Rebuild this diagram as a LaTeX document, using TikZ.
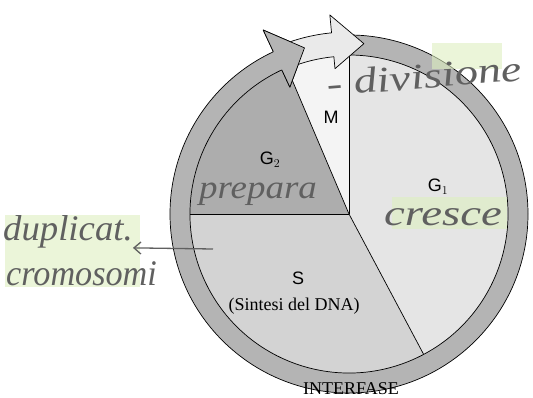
\documentclass[tikz,border=0pt]{standalone}
\usepackage{fontspec}
\setmainfont{Liberation Serif}
\setsansfont{Liberation Sans}
\usetikzlibrary{arrows.meta}

\definecolor{ringgray}{HTML}{B4B4B4}
\definecolor{gtwogray}{HTML}{ADADAD}
\definecolor{sgray}{HTML}{D3D3D3}
\definecolor{gonegray}{HTML}{E5E5E5}
\definecolor{mgray}{HTML}{F4F4F4}
\definecolor{lightarrow}{HTML}{EAEAEA}
\definecolor{pencil}{HTML}{606060}
\definecolor{hilite}{HTML}{DDEFC0}

\begin{document}
\begin{tikzpicture}[x=1pt, y=1pt, line join=round,
  outl/.style={draw=black, line width=0.7pt},
  phase/.style={font=\sffamily\fontsize{18}{18}\selectfont},
  serif/.style={font=\rmfamily\fontsize{18}{18}\selectfont},
  handw/.style={text=pencil, font=\rmfamily\itshape\fontsize{36}{36}\selectfont, inner sep=0pt}]
\useasboundingbox (0,0) rectangle (533,397);
\coordinate (c) at (349,183);
\begin{scope}[shift={(c)}]
% Sectors of the cycle
\fill[gonegray] (0,0) -- (-62:159) arc[start angle=-62, end angle=90, radius=159] -- cycle;
\fill[mgray] (0,0) -- (90:159) arc[start angle=90, end angle=113, radius=159] -- cycle;
\fill[gtwogray] (0,0) -- (113:159) arc[start angle=113, end angle=180, radius=159] -- cycle;
\fill[sgray] (0,0) -- (180:159) arc[start angle=180, end angle=298, radius=159] -- cycle;
\draw[outl] (0,0) -- (90:159);
\draw[outl] (0,0) -- (113:159);
\draw[outl] (0,0) -- (180:159);
\draw[outl] (0,0) -- (-62:159);
% Interfase ring (dark arrow)
\draw[outl, fill=ringgray] (93:179) arc[start angle=93, end angle=-245, radius=179]
  -- (-245:203) -- (-255:172) -- (-245:140) -- (-245:159)
  arc[start angle=-245, end angle=93, radius=159] -- cycle;
% Mitosis arrow (light)
\draw[outl, fill=lightarrow] (112:182) arc[start angle=112, end angle=95.5, radius=182]
  -- (95.5:200) -- (85:171) -- (95.5:146) -- (95.5:158)
  arc[start angle=95.5, end angle=112, radius=158] -- cycle;
% Head of the dark arrow again on top
\fill[ringgray] (115:203) -- (105:172) -- (115:140) -- cycle;
\draw[outl] (115:179) -- (115:203) -- (105:172) -- (115:140) -- (115:159);
\end{scope}
% Highlighter marks
\fill[hilite, opacity=0.6] (5,110) rectangle (140,182);
\fill[hilite, opacity=0.6] (392,168) rectangle (507,200);
\fill[hilite, opacity=0.6] (432,328) rectangle (502,354);
% Phase labels
\node[phase] (m) at (331,280) {M};
\node[phase] (g2) at (270,237) {G$_2$};
\node[phase] (g1) at (438,210) {G$_1$};
\node[phase] (s) at (298,119) {S};
\node[serif] (sdna) at (294,91) {(Sintesi del DNA)};
\node[serif, anchor=base] (inter) at (351,3) {INTERFASE};
% Pencil notes
\node[handw, anchor=base, xscale=1.12, font=\rmfamily\itshape\fontsize{33}{33}\selectfont] (prep) at (258,198) {prepara};
\node[handw, anchor=base, xscale=1.3] (cresce) at (443,172) {cresce};
\node[handw, xscale=1.3, rotate=6] (div) at (424,321) {- divisione};
\node[handw, anchor=base west, xscale=1.02] (dup1) at (3,157) {duplicat.};
\node[handw, anchor=base west, xscale=0.95] (dup2) at (6,112) {cromosomi};
\coordinate (sarrow) at (213,148);
\draw[pencil, line width=1.3pt, -{Straight Barb[length=7pt, width=12pt]}] (sarrow) -- (dup1.south east);
\end{tikzpicture}
\end{document}
